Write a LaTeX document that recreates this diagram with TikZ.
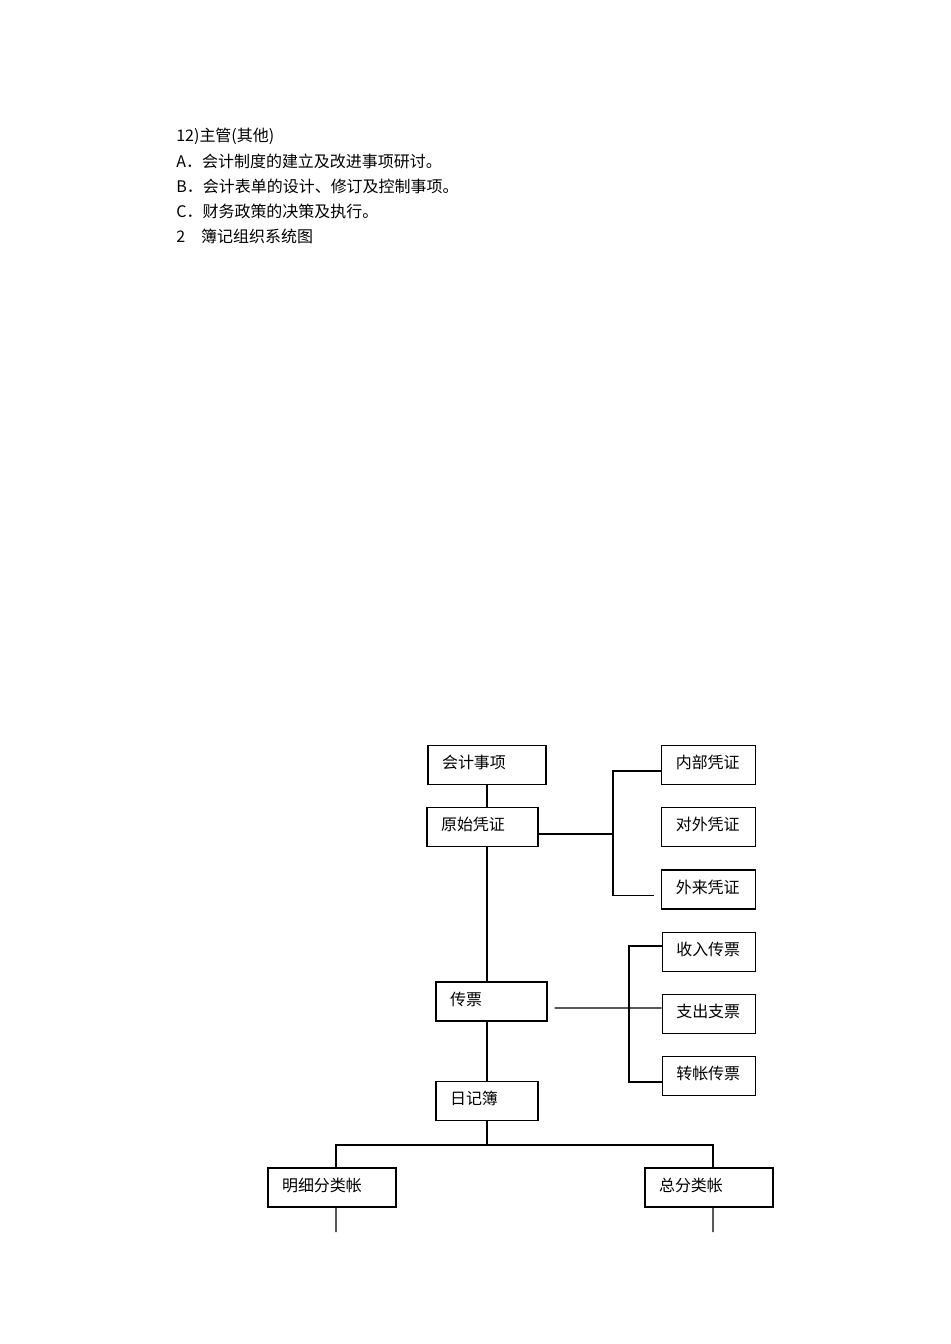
\documentclass[tikz,border=0pt]{standalone}
\usepackage{fontspec}
\setmainfont{Noto Sans CJK SC}
\tikzset{
  box/.style={draw, line width=0.6pt, inner xsep=0.28cm, inner ysep=0pt, minimum height=0.78cm,
    text width=#1, align=left, text height=0.3cm, text depth=0.16cm},
  textline/.style={anchor=west, inner xsep=0pt},
  line/.style={line width=0.6pt}
}

\begin{document}
\begin{tikzpicture}[x=0.02cm, y=-0.02cm, every node/.style={font=\fontsize{9.1pt}{11pt}\selectfont}]
      \useasboundingbox (0,0) rectangle (950,1344);

      \node[textline] (t1) at (176, 136) {12)主管(其他)};
      \node[textline] (t2) at (176, 161) {A．会计制度的建立及改进事项研讨。};
      \node[textline] (t3) at (176, 186) {B．会计表单的设计、修订及控制事项。};
      \node[textline] (t4) at (176, 211) {C．财务政策的决策及执行。};
      \node[textline] (t5) at (176, 236) {2\quad 簿记组织系统图};

      \node[box=1.80cm] (shixiang) at (487, 765) {会计事项};
      \node[box=1.66cm] (yuanshi) at (482.5, 827) {原始凭证};
      \node[box=1.31cm] (neibu) at (708.5, 765) {内部凭证};
      \node[box=1.31cm] (duiwai) at (708.5, 827) {对外凭证};
      \node[box=1.31cm] (wailai) at (708.5, 889.5) {外来凭证};

      \node[box=1.66cm] (chuanpiao) at (491.5, 1001.5) {传票};
      \node[box=1.31cm] (shouru) at (709, 952) {收入传票};
      \node[box=1.31cm] (zhichu) at (709, 1014) {支出支票};
      \node[box=1.31cm] (zhuanzhang) at (709, 1076) {转帐传票};

      \node[box=1.48cm] (riji) at (487, 1101) {日记簿};
      \node[box=2.00cm] (mingxi) at (332, 1187.5) {明细分类帐};
      \node[box=2.00cm] (zong) at (709, 1187.5) {总分类帐};

      \coordinate (jointA) at (613, 834);
      \coordinate (jointB) at (629, 1008);
      \coordinate (split) at (487, 1145);
      \coordinate (mingxiEnd) at (336, 1232);
      \coordinate (zongEnd) at (713, 1232);

      % main line
      \draw[line] (shixiang.south) -- (riji |- yuanshi.north);
      \draw[line] (riji |- yuanshi.south) -- (riji |- chuanpiao.north);
      \draw[line] (riji |- chuanpiao.south) -- (riji.north);
      \draw[line] (riji.south) -- (split);

      % vouchers
      \draw[line] (yuanshi.east |- jointA) -- (jointA);
      \draw[line] ([yshift=-0.12cm]neibu.west) -| (jointA) |- ([xshift=-0.14cm, yshift=-0.12cm]wailai.west);

      % tickets
      \draw[line] ([xshift=0.14cm, yshift=-0.13cm]chuanpiao.east) -- ([yshift=0.12cm]zhichu.west);
      \draw[line] ([yshift=0.12cm]shouru.west) -| (jointB) |- ([yshift=-0.12cm]zhuanzhang.west);

      % ledgers
      \draw[line] ([xshift=0.08cm]mingxi.north) |- (split) -| ([xshift=0.08cm]zong.north);
      \draw[line] ([xshift=0.08cm]mingxi.south) -- (mingxiEnd);
      \draw[line] ([xshift=0.08cm]zong.south) -- (zongEnd);
\end{tikzpicture}
\end{document}
